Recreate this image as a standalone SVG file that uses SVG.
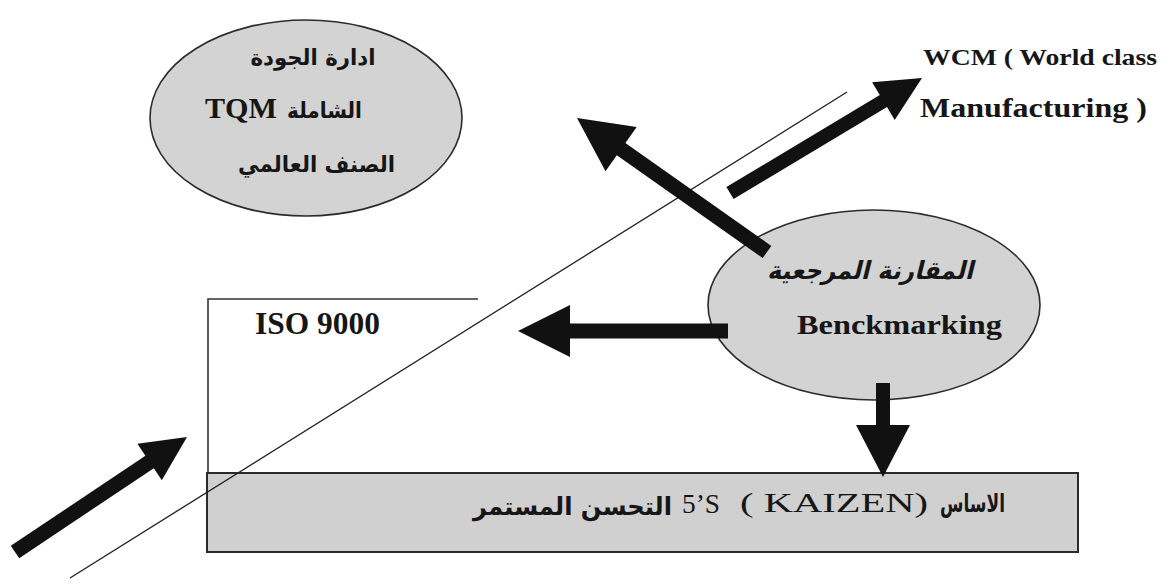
<svg xmlns="http://www.w3.org/2000/svg" width="1170" height="584" viewBox="0 0 1170 584">
  <style>
    .bubble { fill: #d3d3d3; stroke: #2b2b2b; stroke-width: 1.6; }
    .band { fill: #d0d0d0; stroke: #2b2b2b; stroke-width: 2; }
    .frame { fill: none; stroke: #333; stroke-width: 1.6; }
    .arrow { fill: #111; stroke: none; }
    .trend { stroke: #1e1e1e; stroke-width: 1.3; fill: none; }
    .ar { font-family: "DejaVu Sans", sans-serif; font-weight: bold; fill: #161616; }
    .en { font-family: "Liberation Serif", serif; font-weight: bold; fill: #161616; }
    .enr { font-family: "Liberation Serif", serif; font-weight: normal; fill: #161616; }
  </style>

  <rect x="0" y="0" width="1170" height="584" fill="#ffffff"/>

  <!-- base band: continuous improvement -->
  <g id="kaizen">
    <rect class="band" x="207" y="473" width="871" height="79"/>
    <text class="ar" x="572.5" y="515" font-size="25" text-anchor="middle" direction="rtl" textLength="199" lengthAdjust="spacingAndGlyphs">التحسن المستمر</text>
    <text class="enr" x="682" y="513" font-size="27" textLength="38" lengthAdjust="spacingAndGlyphs">5’S</text>
    <text class="enr" x="740" y="512" font-size="27" textLength="188" lengthAdjust="spacingAndGlyphs">( KAIZEN)</text>
    <text class="ar" x="972.5" y="512" font-size="25" text-anchor="middle" direction="rtl" textLength="65" lengthAdjust="spacingAndGlyphs">الاساس</text>
  </g>

  <!-- ISO 9000 open frame -->
  <g id="iso">
    <path class="frame" d="M208 473 V299 H478"/>
    <text class="en" x="255" y="334" font-size="31" textLength="125" lengthAdjust="spacingAndGlyphs">ISO 9000</text>
  </g>

  <!-- TQM ellipse -->
  <g id="tqm">
    <ellipse class="bubble" cx="306" cy="118" rx="156" ry="98"/>
    <text class="ar" x="313" y="65" font-size="22" text-anchor="middle" direction="rtl" textLength="125" lengthAdjust="spacingAndGlyphs">ادارة الجودة</text>
    <text class="en" x="205" y="118" font-size="29" textLength="72" lengthAdjust="spacingAndGlyphs">TQM</text>
    <text class="ar" x="324.5" y="118" font-size="22" text-anchor="middle" direction="rtl" textLength="75" lengthAdjust="spacingAndGlyphs">الشاملة</text>
    <text class="ar" x="316.5" y="172" font-size="23" text-anchor="middle" direction="rtl" textLength="157" lengthAdjust="spacingAndGlyphs">الصنف العالمي</text>
  </g>

  <!-- World class manufacturing label -->
  <g id="wcm">
    <text class="en" x="923" y="65" font-size="24" textLength="234" lengthAdjust="spacingAndGlyphs">WCM ( World class</text>
    <text class="en" x="920" y="117" font-size="27" textLength="227" lengthAdjust="spacingAndGlyphs">Manufacturing )</text>
  </g>

  <!-- Benchmarking ellipse -->
  <g id="benchmarking">
    <ellipse class="bubble" cx="874" cy="305" rx="166" ry="95"/>
    <g transform="translate(870 279) skewX(-14)">
      <text class="ar" x="0" y="0" font-size="25" text-anchor="middle" direction="rtl" textLength="206" lengthAdjust="spacingAndGlyphs">المقارنة المرجعية</text>
    </g>
    <text class="en" x="797" y="334" font-size="27" textLength="205" lengthAdjust="spacingAndGlyphs">Benckmarking</text>
  </g>

  <!-- rising diagonal -->
  <g id="trend-line">
    <line class="trend" x1="70" y1="578" x2="847" y2="92"/>
  </g>

  <!-- block arrows -->
  <g id="connectors">
    <!-- benchmarking to TQM -->
    <polygon class="arrow" points="771.3,245.9 625.4,143.0 636.7,127.0 577,118 605.5,171.2 616.8,155.2 762.7,258.1"/>
    <!-- rising toward WCM -->
    <polygon class="arrow" points="726.4,187.0 879.8,95.1 872.1,82.2 922,78 894.7,120.0 887.0,107.1 733.6,199.0"/>
    <!-- benchmarking to ISO 9000 -->
    <polygon class="arrow" points="728,323.5 570,323.5 570,305 518,331 570,357 570,338.5 728,338.5"/>
    <!-- benchmarking down to KAIZEN base -->
    <polygon class="arrow" points="876,383 890,383 890,425 910,425 883,477 856,425 876,425"/>
    <!-- entry arrow, lower left -->
    <polygon class="arrow" points="10.8,545.8 145.4,455.8 137.4,443.7 187,437 161.8,480.3 153.8,468.2 19.2,558.2"/>
  </g>
</svg>
